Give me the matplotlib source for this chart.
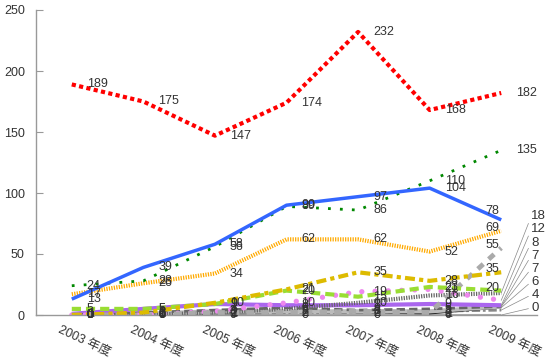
import matplotlib
matplotlib.use("Agg")
import matplotlib.pyplot as plt
from matplotlib.transforms import ScaledTranslation

plt.rcParams['font.family'] = ['Liberation Sans', 'Noto Sans CJK JP', 'DejaVu Sans']

years = ["2003 年度", "2004 年度", "2005 年度", "2006 年度", "2007 年度", "2008 年度", "2009 年度"]

# values, one list per series
red_vals = [189, 175, 147, 174, 232, 168, 182]
green_vals = [24, 28, 56, 89, 86, 110, 135]
blue_vals = [13, 39, 58, 90, 97, 104, 78]
orange_vals = [17, 26, 34, 62, 62, 52, 69]
grey_dash_vals = [0, 0, 2, 2, 3, 2, 55]
yellow_vals = [0, 2, 10, 21, 35, 28, 35]
lime_vals = [5, 5, 9, 20, 15, 23, 20]
dark_dot_vals = [0, 0, 2, 5, 10, 16, 18]
pink_vals = [0, 0, 3, 10, 19, 21, 12]
purple_vals = [1, 5, 9, 8, 8, 9, 8]
grey2_vals = [0, 2, 4, 6, 4, 5, 7]
grey3_vals = [0, 1, 3, 3, 3, 3, 7]
black_vals = [0, 1, 2, 2, 2, 1, 6]
grey4_vals = [0, 1, 1, 2, 2, 3, 4]
grey5_vals = [0, 0, 0, 0, 0, 0, 0]

# (values, color, linewidth, dashes or None, capstyle) - drawn bottom to top
series = [
    (grey5_vals, "#aaaaaa", 1.5, None, "butt"),
    (grey4_vals, "#888888", 2.0, (3, 1, 1, 1), "butt"),
    (black_vals, "#222222", 1.0, None, "butt"),
    (grey3_vals, "#bbbbbb", 3.0, None, "butt"),
    (grey2_vals, "#666666", 2.0, (3, 1.5), "butt"),
    (purple_vals, "#aa66ee", 3.0, None, "butt"),
    (dark_dot_vals, "#666666", 3.0, (0.3, 0.3), "butt"),
    (pink_vals, "#ee88ee", 3.8, (0.01, 2.5), "round"),
    (grey_dash_vals, "#aaaaaa", 3.5, (1.5, 1.5), "butt"),
    (lime_vals, "#99dd33", 3.0, (2.2, 1.2), "butt"),
    (yellow_vals, "#ddbb00", 3.0, (2.4, 1, 1, 1), "butt"),
    (orange_vals, "#ffaa00", 3.0, (0.3, 0.3), "butt"),
    (green_vals, "#008800", 2.0, (1, 3.3), "butt"),
    (blue_vals, "#3366ff", 2.5, None, "butt"),
    (red_vals, "#ff0000", 3.0, (1, 0.8), "butt"),
]

fig = plt.figure(figsize=(5.5, 3.62), dpi=100)
ax = fig.add_axes([36 / 550, 1 - 315 / 362, 501 / 550, 305 / 362])
ax.set_xlim(-0.5, 6.5)
ax.set_ylim(0, 250)

x = list(range(len(years)))
for vals, color, lw, dashes, cap in series:
    line, = ax.plot(x, vals, color=color, lw=lw, solid_capstyle="butt")
    if dashes is not None:
        line.set_dashes(dashes)
        line.set_dash_capstyle(cap)

label_color = "#333333"
last = len(years) - 1
left_side = []
stacked = []
for vals, *_ in series:
    for i, v in enumerate(vals):
        if i == last and v < 20:
            stacked.append(v)
        elif i == last and v < 100:
            left_side.append(v)
        else:
            ax.annotate(str(v), (i, v), xytext=(15, 0), textcoords="offset pixels",
                        ha="left", va="center", fontsize=9, color=label_color, zorder=10)

# labels left of the last point, pushed apart upward
px_per_unit = 305 / 250
prev = None
for v in sorted(left_side):
    y = v * px_per_unit + 3
    if prev is not None:
        y = max(y, prev + 17)
    prev = y
    ax.annotate(str(v), (last, v), xytext=(-2, y - v * px_per_unit), textcoords="offset pixels",
                ha="right", va="center", fontsize=9, color=label_color, zorder=10)

# small values at the end are stacked with leader lines
for k, v in enumerate(sorted(stacked)):
    dy = 7 + k * 13.1 - v * px_per_unit
    ax.annotate(str(v), (last, v), xytext=(30, dy), textcoords="offset pixels",
                ha="left", va="center", fontsize=9.5, color=label_color, zorder=10,
                arrowprops=dict(arrowstyle="-", color="#888888", lw=0.5,
                                shrinkA=0, shrinkB=0, relpos=(0, 0.5)))

for side in ["top", "right"]:
    ax.spines[side].set_visible(False)
for side in ["left", "bottom"]:
    ax.spines[side].set_color("#999999")
    ax.spines[side].set_linewidth(1.0)

ax.set_yticks([0, 50, 100, 150, 200, 250])
ax.tick_params(axis="y", direction="in", length=5, color="#999999", pad=8,
               labelsize=9, labelcolor=label_color)
ax.set_xticks(x)
ax.set_xticklabels(years, rotation=-25, ha="left", rotation_mode="anchor")
ax.tick_params(axis="x", length=0, pad=6, labelsize=9, labelcolor=label_color)
shift = ScaledTranslation(-10 / 100, 0, fig.dpi_scale_trans)
for lab in ax.get_xticklabels():
    lab.set_transform(lab.get_transform() + shift)

fig.savefig("out.png", dpi=100)
